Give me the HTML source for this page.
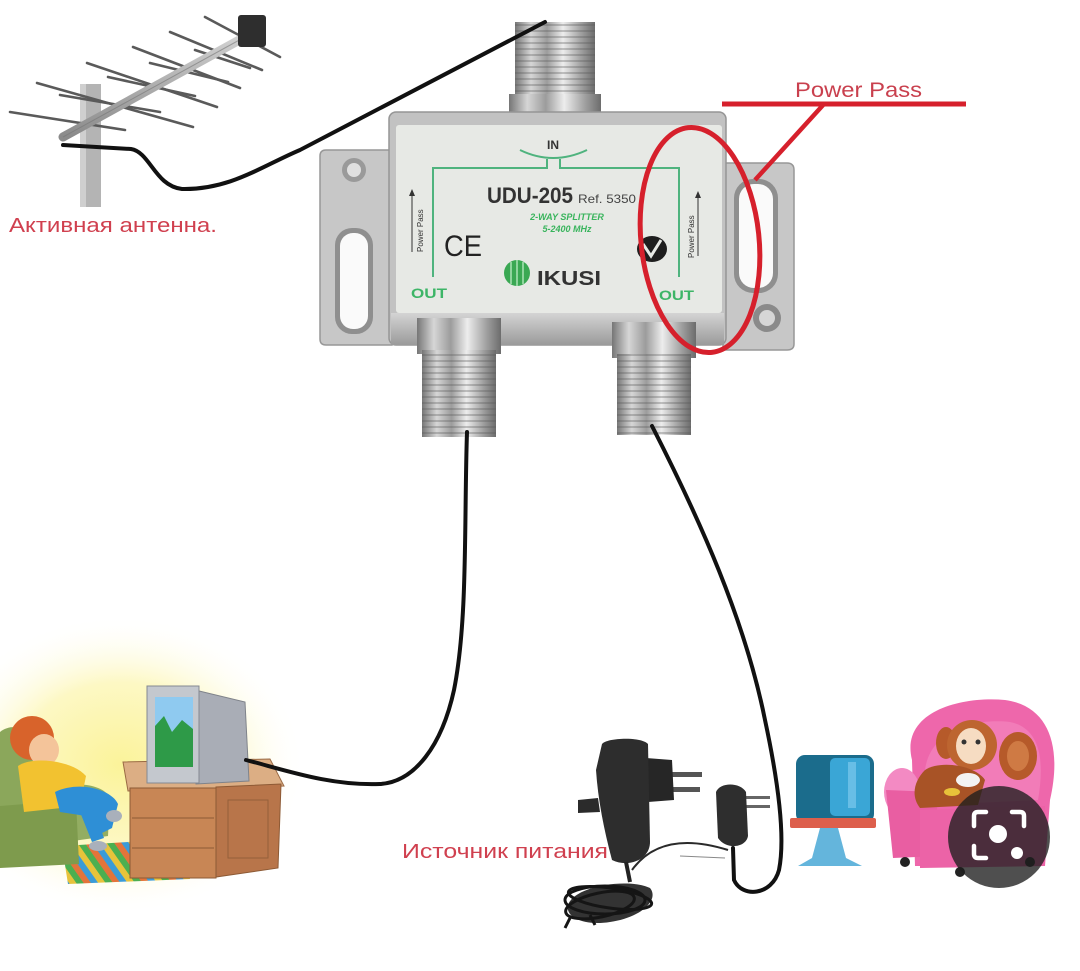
<!DOCTYPE html>
<html><head><meta charset="utf-8"><style>
html,body{margin:0;padding:0;background:#fff;}
svg{display:block;}
text{font-family:"Liberation Sans",sans-serif;}
</style></head><body>
<svg width="1080" height="971" viewBox="0 0 1080 971" xmlns="http://www.w3.org/2000/svg">
<defs>
<linearGradient id="metal" x1="0" x2="1" y1="0" y2="0">
<stop offset="0" stop-color="#767676"/><stop offset=".2" stop-color="#d6d6d6"/><stop offset=".4" stop-color="#9c9c9c"/><stop offset=".6" stop-color="#ededed"/><stop offset=".82" stop-color="#a2a2a2"/><stop offset="1" stop-color="#6c6c6c"/>
</linearGradient>
<linearGradient id="band" x1="0" x2="0" y1="0" y2="1">
<stop offset="0" stop-color="#d4d4d4"/><stop offset="1" stop-color="#9a9a9a"/>
</linearGradient>
<linearGradient id="boom" x1="0" x2="0" y1="0" y2="1">
<stop offset="0" stop-color="#d0d0d0"/><stop offset="1" stop-color="#8a8a8a"/>
</linearGradient>
<pattern id="thr" width="10" height="6" patternUnits="userSpaceOnUse">
<line x1="0" y1="1" x2="10" y2="1" stroke="#555" stroke-width="1.4" opacity=".45"/>
</pattern>
<radialGradient id="glow" cx=".5" cy=".5" r=".5">
<stop offset="0" stop-color="#fbf39a"/><stop offset=".55" stop-color="#fdf8c4"/><stop offset="1" stop-color="#ffffff" stop-opacity="0"/>
</radialGradient>
<pattern id="rug" width="24" height="24" patternUnits="userSpaceOnUse" patternTransform="rotate(-35)">
<rect width="6" height="24" fill="#3a9bd8"/><rect x="6" width="6" height="24" fill="#e7c33b"/><rect x="12" width="6" height="24" fill="#4caf50"/><rect x="18" width="6" height="24" fill="#e3743a"/>
</pattern>
</defs>
<rect width="1080" height="971" fill="#fff"/>

<!-- ===== Antenna ===== -->
<rect x="80" y="84" width="21" height="123" fill="#b4b4b4"/>
<rect x="80" y="84" width="6" height="123" fill="#cfcfcf"/>
<g stroke="#5a5a5a" stroke-width="2.6" stroke-linecap="round">
<line x1="205" y1="17" x2="280" y2="57"/>
<line x1="170" y1="32" x2="262" y2="70"/>
<line x1="195" y1="50" x2="250" y2="68"/>
<line x1="133" y1="47" x2="240" y2="88"/>
<line x1="150" y1="63" x2="228" y2="82"/>
<line x1="87" y1="63" x2="217" y2="107"/>
<line x1="108" y1="77" x2="195" y2="96"/>
<line x1="37" y1="83" x2="193" y2="127"/>
<line x1="60" y1="95" x2="160" y2="112"/>
<line x1="10" y1="112" x2="125" y2="130"/>
</g>
<line x1="63" y1="137" x2="243" y2="38" stroke="url(#boom)" stroke-width="9" stroke-linecap="round"/>
<line x1="63" y1="137" x2="243" y2="38" stroke="#777" stroke-width="1" opacity=".6"/>
<rect x="238" y="15" width="28" height="32" rx="3" fill="#2e2e2e"/>

<text x="9" y="232" font-size="20" fill="#d0404f" textLength="208" lengthAdjust="spacingAndGlyphs">Активная антенна.</text>

<!-- ===== Splitter ===== -->
<path d="M326,150 L392,150 L392,345 L326,345 Q320,345 320,339 L320,156 Q320,150 326,150 Z" fill="#c7c7c7" stroke="#979797" stroke-width="1.5"/>
<circle cx="354" cy="170" r="12" fill="#9a9a9a"/>
<circle cx="354" cy="170" r="7" fill="#e0e0e0"/>
<rect x="335" y="228" width="38" height="106" rx="17" fill="#8f8f8f"/>
<rect x="340" y="233" width="28" height="96" rx="13" fill="#fafafa"/>
<path d="M723,163 L787,163 Q794,163 794,170 L794,344 Q794,350 787,350 L723,350 Z" fill="#c7c7c7" stroke="#979797" stroke-width="1.5"/>
<rect x="734" y="179" width="44" height="114" rx="19" fill="#8f8f8f"/>
<rect x="739" y="184" width="34" height="104" rx="15" fill="#fafafa"/>
<circle cx="767" cy="318" r="14" fill="#8a8a8a"/>
<circle cx="767" cy="318" r="8" fill="#d6d6d6"/>
<rect x="515" y="22" width="80" height="78" fill="url(#metal)"/>
<rect x="515" y="22" width="80" height="78" fill="url(#thr)"/>
<rect x="509" y="94" width="92" height="30" fill="url(#metal)"/>
<rect x="389" y="112" width="337" height="233" rx="7" fill="#c2c2c2" stroke="#959595" stroke-width="1.5"/>
<rect x="391" y="313" width="333" height="32" fill="url(#band)"/>
<rect x="396" y="125" width="326" height="188" rx="3" fill="#e7e9e5"/>
<rect x="417" y="318" width="84" height="36" fill="url(#metal)"/>
<rect x="422" y="350" width="74" height="87" fill="url(#metal)"/>
<rect x="422" y="350" width="74" height="87" fill="url(#thr)"/>
<rect x="612" y="322" width="84" height="36" fill="url(#metal)"/>
<rect x="617" y="354" width="74" height="81" fill="url(#metal)"/>
<rect x="617" y="354" width="74" height="81" fill="url(#thr)"/>

<g fill="none" stroke="#4fb37e" stroke-width="2">
<path d="M520,150 Q553,166 587,150"/>
<path d="M547,159 L547,168 L433,168 L433,277"/>
<path d="M560,159 L560,168 L679,168 L679,277"/>
</g>
<text x="547" y="149" font-size="12" font-weight="bold" fill="#333">IN</text>
<text x="487" y="203" font-size="22" font-weight="bold" fill="#333" textLength="86" lengthAdjust="spacingAndGlyphs">UDU-205</text>
<text x="578" y="203" font-size="12" fill="#444" textLength="58" lengthAdjust="spacingAndGlyphs">Ref. 5350</text>
<text x="567" y="220" font-size="9" font-weight="bold" font-style="italic" fill="#38b45c" text-anchor="middle">2-WAY SPLITTER</text>
<text x="567" y="232" font-size="9" font-weight="bold" font-style="italic" fill="#38b45c" text-anchor="middle">5-2400 MHz</text>
<text x="444" y="256" font-size="30" fill="#222" textLength="38" lengthAdjust="spacingAndGlyphs">CE</text>
<ellipse cx="652" cy="249" rx="15" ry="13" fill="#1e1e1e"/>
<path d="M643,244 L651,256 L661,240" fill="none" stroke="#e7e9e5" stroke-width="3"/>
<circle cx="517" cy="273" r="13" fill="#3aa853"/>
<path d="M511,262 L511,284 M517,260 L517,286 M523,262 L523,284" stroke="#8fd49d" stroke-width="2"/>
<text x="537" y="285" font-size="20" font-weight="bold" fill="#333" textLength="64" lengthAdjust="spacingAndGlyphs">IKUSI</text>
<text x="411" y="298" font-size="14" font-weight="bold" fill="#3db567" textLength="36" lengthAdjust="spacingAndGlyphs">OUT</text>
<text x="659" y="300" font-size="14" font-weight="bold" fill="#3db567" textLength="35" lengthAdjust="spacingAndGlyphs">OUT</text>
<g fill="#333">
<line x1="412" y1="252" x2="412" y2="192" stroke="#333" stroke-width="1"/>
<path d="M409,196 L412,189 L415,196Z"/>
<text transform="translate(423,252) rotate(-90)" font-size="8">Power Pass</text>
<line x1="698" y1="256" x2="698" y2="194" stroke="#333" stroke-width="1"/>
<path d="M695,198 L698,191 L701,198Z"/>
<text transform="translate(694,258) rotate(-90)" font-size="8">Power Pass</text>
</g>

<ellipse cx="700" cy="240" rx="59" ry="113" transform="rotate(-6 700 240)" fill="none" stroke="#d6202c" stroke-width="5"/>
<line x1="722" y1="104" x2="966" y2="104" stroke="#d6202c" stroke-width="5"/>
<line x1="824" y1="104" x2="755" y2="180" stroke="#d6202c" stroke-width="4.5"/>
<text x="795" y="97" font-size="21" fill="#c9404e" textLength="127" lengthAdjust="spacingAndGlyphs">Power Pass</text>

<!-- ===== Left scene ===== -->
<ellipse cx="120" cy="765" rx="185" ry="150" fill="url(#glow)"/>
<polygon points="62,846 176,839 190,879 68,884" fill="url(#rug)"/>
<path d="M0,732 C12,722 34,728 40,742 L42,805 L0,812 Z" fill="#8ba75b"/>
<path d="M58,790 C72,780 104,784 110,798 L108,836 L66,842 Z" fill="#93ad62"/>
<path d="M0,806 L76,800 L79,864 L0,868 Z" fill="#7e9b4d"/>
<circle cx="32" cy="738" r="22" fill="#d8632b"/>
<ellipse cx="44" cy="750" rx="15" ry="16" fill="#f4c49a"/>
<path d="M18,766 C32,756 72,760 86,776 L80,806 L24,812 Z" fill="#f2c230"/>
<path d="M55,792 C80,780 112,790 118,804 L112,828 L100,834 L86,816 L60,812 Z" fill="#2e8fd6"/>
<path d="M80,812 L92,842 L104,838 L94,810 Z" fill="#2e8fd6"/>
<ellipse cx="114" cy="816" rx="8" ry="6" fill="#a9b0bb"/>
<ellipse cx="98" cy="846" rx="9" ry="5" fill="#a9b0bb"/>
<path d="M123,762 L270,759 L284,786 L128,791 Z" fill="#dcae84" stroke="#9a6a44" stroke-width="1"/>
<rect x="130" y="788" width="86" height="90" fill="#c88655" stroke="#8d5a35" stroke-width="1"/>
<line x1="132" y1="818" x2="214" y2="818" stroke="#8d5a35"/>
<line x1="132" y1="848" x2="214" y2="848" stroke="#8d5a35"/>
<path d="M216,787 L281,784 L278,868 L216,877 Z" fill="#b8754a" stroke="#8d5a35" stroke-width="1"/>
<rect x="228" y="800" width="40" height="58" fill="none" stroke="#94603a"/>
<path d="M195,690 L245,702 L249,781 L196,784 Z" fill="#a9adb6" stroke="#7f838a"/>
<rect x="147" y="686" width="52" height="97" fill="#c4c8ce" stroke="#858991"/>
<rect x="155" y="697" width="38" height="70" fill="#8fcaf0"/>
<path d="M155,726 L164,716 L172,732 L182,720 L193,729 L193,767 L155,767 Z" fill="#2e9a48"/>

<!-- ===== Right scene ===== -->
<path d="M648,772 L702,772 L702,777 L648,777 Z" fill="#555"/>
<path d="M648,787 L700,787 L700,792 L648,792 Z" fill="#555"/>
<path d="M646,758 L672,760 L674,800 L648,802 Z" fill="#262626"/>
<path d="M578,800 L598,798 L600,812 L578,813 Z" fill="#2b2b2b"/>
<path d="M602,744 C606,738 640,736 648,744 L650,842 C650,860 628,868 612,860 C604,830 598,800 596,770 Z" fill="#2d2d2d"/>
<path d="M626,862 L630,882" stroke="#222" stroke-width="4"/>
<path d="M568,905 C575,885 630,878 650,888 C660,900 640,918 610,922 C585,926 565,918 568,905 Z" fill="#333"/>
<g fill="none" stroke="#151515" stroke-width="3">
<ellipse cx="605" cy="900" rx="40" ry="14"/>
<ellipse cx="600" cy="905" rx="35" ry="12" transform="rotate(-12 600 905)"/>
<ellipse cx="610" cy="898" rx="42" ry="10" transform="rotate(8 610 898)"/>
<path d="M570,918 L565,928 M590,915 L595,925"/>
</g>
<path d="M632,870 C650,845 680,835 728,850" fill="none" stroke="#2a2a2a" stroke-width="2"/>
<path d="M680,856 L725,858" stroke="#888" stroke-width="1"/>
<rect x="744" y="796" width="26" height="3" fill="#666"/>
<rect x="744" y="805" width="26" height="3" fill="#666"/>
<path d="M716,792 C720,782 740,782 746,792 L748,836 C746,848 726,850 718,838 Z" fill="#2e2e2e"/>

<rect x="796" y="755" width="78" height="68" rx="9" fill="#1b6c8c"/>
<rect x="830" y="758" width="40" height="58" rx="5" fill="#3aa6d6"/>
<rect x="848" y="762" width="8" height="46" fill="#7cc9ec" opacity=".7"/>
<rect x="790" y="818" width="86" height="10" rx="2" fill="#dd5f4c"/>
<path d="M820,828 L838,828 L846,858 L862,866 L798,866 L812,858 Z" fill="#64b5dc"/>

<path d="M912,760 C900,712 960,696 1005,700 C1050,706 1062,748 1050,800 L1045,866 L915,866 Z" fill="#ee67ab"/>
<path d="M925,770 C930,730 975,718 1010,722 C1040,728 1045,760 1038,800 L930,805 Z" fill="#f27cb8"/>
<ellipse cx="902" cy="792" rx="18" ry="24" fill="#f38ac3"/>
<path d="M886,790 L936,792 L940,856 L893,858 Z" fill="#e95ea2"/>
<path d="M920,810 L1045,806 L1045,866 L920,868 Z" fill="#ec63a7"/>
<circle cx="905" cy="862" r="5" fill="#222"/>
<circle cx="960" cy="872" r="5" fill="#222"/>
<circle cx="1030" cy="862" r="5" fill="#222"/>
<ellipse cx="1018" cy="756" rx="19" ry="24" fill="#b65a2a"/>
<ellipse cx="1018" cy="756" rx="11" ry="15" fill="#cf7a44"/>
<ellipse cx="946" cy="743" rx="10" ry="16" fill="#b65a2a"/>
<circle cx="972" cy="745" r="25" fill="#bd6530"/>
<ellipse cx="971" cy="746" rx="15" ry="18" fill="#f6dcc2"/>
<circle cx="964" cy="742" r="2.5" fill="#333"/>
<circle cx="978" cy="742" r="2.5" fill="#333"/>
<path d="M925,770 C940,760 975,765 985,780 L978,805 L920,808 C910,795 915,780 925,770 Z" fill="#a85326"/>
<ellipse cx="968" cy="780" rx="12" ry="7" fill="#f3f3f3"/>
<ellipse cx="952" cy="792" rx="8" ry="4" fill="#e8c23a"/>

<!-- ===== Cables ===== -->
<g fill="none" stroke="#111" stroke-width="4" stroke-linecap="round">
<path d="M63,145 L131,149 C150,152 155,186 182,189 C230,190 262,166 300,150 L545,22"/>
<path d="M467,432 C464,520 468,620 454,690 C442,745 415,782 380,784 C330,786 285,770 246,760"/>
<path d="M652,426 C700,520 745,620 765,720 C780,790 785,840 779,870 C772,896 742,898 734,880 L733,848"/>
</g>

<text x="402" y="858" font-size="20" fill="#d0404f" textLength="206" lengthAdjust="spacingAndGlyphs">Источник питания</text>

<circle cx="999" cy="837" r="51" fill="rgb(30,30,30)" fill-opacity=".78"/>
<g fill="none" stroke="#fff" stroke-width="4.5" stroke-linecap="round" stroke-linejoin="round">
<path d="M974,826 L974,816 Q974,812 978,812 L986,812"/>
<path d="M1012,812 L1020,812 Q1024,812 1024,816 L1024,826"/>
<path d="M974,846 L974,854 Q974,858 978,858 L986,858"/>
</g>
<circle cx="998" cy="834" r="9" fill="#fff"/>
<circle cx="1017" cy="853" r="6" fill="#fff"/>
</svg>
</body></html>
